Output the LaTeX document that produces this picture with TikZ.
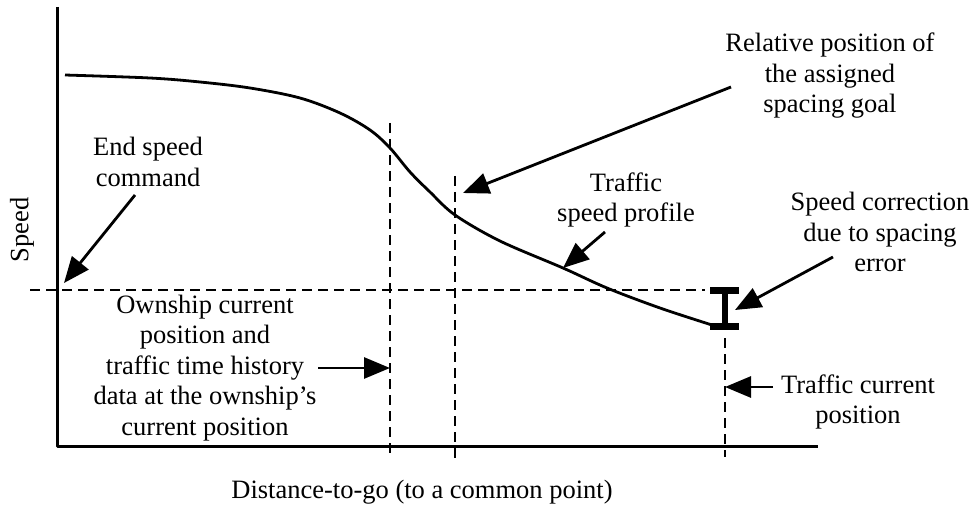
\documentclass[tikz,border=0pt]{standalone}
\usepackage{fontspec}
\setmainfont{Liberation Serif}
\usetikzlibrary{arrows.meta}
\tikzset{
  lbl/.style={align=center,font=\fontsize{26.5}{30.5}\selectfont,inner sep=0pt},
  ptr/.style={line width=2.8pt,-{Triangle[length=26pt,width=21pt]}},
  guide/.style={line width=2.8pt,dash pattern=on 10pt off 6pt},
}
\begin{document}
\begin{tikzpicture}[x=1pt,y=-1pt,line join=round]
	\useasboundingbox (0,0) rectangle (975,508);
	\path 
	(57,7) coordinate (Ytop) (57,446) coordinate (O) (818,446) coordinate (Xend)
	(30,290) coordinate (Hl) (705,290) coordinate (Hr)
	(390,123) coordinate (A1) (390,457) coordinate (A2)
	(455,176) coordinate (B1) (455,463) coordinate (B2)
	(725,338) coordinate (C1) (725,457) coordinate (C2)
	(725,290) coordinate (Itop) (725,326) coordinate (Ibot)
	;
	% axes
	\draw[line width=3pt] (Ytop)--(O)--(Xend);
	\node[lbl,rotate=90] (speed) at (22,230) {Speed};
	\node[lbl] (dist) at (422,492) {Distance-to-go (to a common point)};
	% dashed guides
	\draw[guide] (Hl)--(Hr) (A1)--(A2) (B1)--(B2) (C1)--(C2);
	% traffic speed profile
	\draw[line width=2.8pt] plot[smooth,tension=0.55] coordinates {(65,75) (150,78) (200,82) (250,88) (300,98) (340,113) (370,130) (390,148) (410,172) (430,192) (455,215) (500,241) (563,268) (607,288) (660,308) (712,325)};
	% spacing error bar
	\draw[line width=6pt] (Itop)--(Ibot);
	\foreach \p in {Itop,Ibot}
	\fill ([xshift=-15pt,yshift=-3.5pt]\p) rectangle ([xshift=14pt,yshift=3.5pt]\p);
	% labels
	\node[lbl] (endcmd) at (148,162) {End speed\\command};
	\node[lbl] (relpos) at (830,76) {Relative position of\\the assigned\\spacing goal};
	\node[lbl] (profile) at (626,200) {Traffic\\speed profile};
	\node[lbl] (corr) at (880,232) {Speed correction\\due to spacing\\error};
	\node[lbl] (own) at (205,368) {Ownship current\\position and\\traffic time history\\data at the ownship's\\current position};
	\node[lbl] (trafpos) at (858,402) {Traffic current\\position};
	% pointers
	\path (135,195) coordinate (e1) (64,283) coordinate (e2)
	(731,87) coordinate (r1) (463,193) coordinate (r2)
	(605,232) coordinate (p1) (563,268) coordinate (p2)
	(833,257) coordinate (c1) (735,310) coordinate (c2)
	(318,368) coordinate (o1) (390,368) coordinate (o2)
	(773,387) coordinate (t1) (725,387) coordinate (t2);
	\foreach \s/\t in {e1/e2,r1/r2,p1/p2,c1/c2,o1/o2,t1/t2}
	\draw[ptr] (\s)--(\t);
\end{tikzpicture}
\end{document}
